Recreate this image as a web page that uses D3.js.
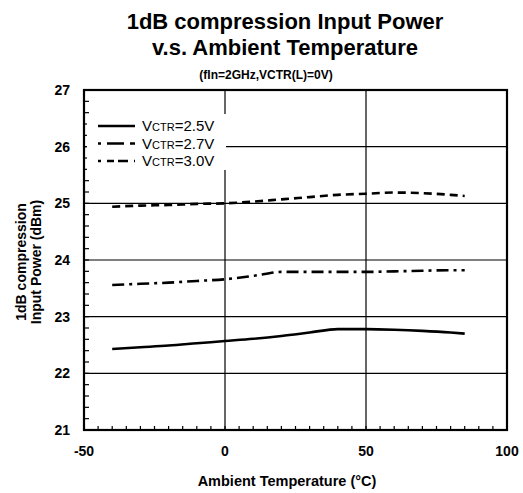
<!DOCTYPE html>
<html>
<head>
<meta charset="utf-8">
<script src="https://cdn.jsdelivr.net/npm/d3@7"></script>
<style>
  body { margin: 0; background: #fff; }
  text { font-family: "Liberation Sans", Arial, sans-serif; fill: #000; }
</style>
</head>
<body>
<script>
// temperatures (°C) and 1dB compression input power (dBm)
const temps = [-40, -30, -20, -10, 0, 10, 20, 30, 40, 50, 60, 70, 80, 85];
const v25 = [22.43, 22.46, 22.49, 22.53, 22.57, 22.61, 22.66, 22.72, 22.78, 22.78, 22.77, 22.75, 22.72, 22.70];
const v27 = [23.56, 23.58, 23.60, 23.63, 23.66, 23.72, 23.79, 23.79, 23.79, 23.79, 23.80, 23.81, 23.82, 23.82];
const v30 = [24.94, 24.96, 24.97, 24.99, 25.00, 25.03, 25.07, 25.11, 25.15, 25.17, 25.19, 25.18, 25.15, 25.13];

const seriesNames = ["2.5V", "2.7V", "3.0V"];
const seriesData = [v25, v27, v30];
const dashes = [null, "12,5,3,5", "8,5"];

const yTicks = [21, 22, 23, 24, 25, 26, 27];
const xTicks = [-50, 0, 50, 100];

const W = 523, H = 493;
const m = { left: 84, right: 16, top: 90, bottom: 63 };

const svg = d3.select("body").append("svg")
    .attr("width", W)
    .attr("height", H);

const x = d3.scaleLinear().domain([-50, 100]).range([m.left, W - m.right]);
const y = d3.scaleLinear().domain([21, 27]).range([H - m.bottom, m.top]);

// title
svg.append("text").attr("x", 285).attr("y", 29).attr("text-anchor", "middle")
    .style("font-size", "22px").style("font-weight", "bold")
    .text("1dB compression Input Power");
svg.append("text").attr("x", 285).attr("y", 55).attr("text-anchor", "middle")
    .style("font-size", "22px").style("font-weight", "bold")
    .text("v.s. Ambient Temperature");
svg.append("text").attr("x", 266).attr("y", 79).attr("text-anchor", "middle")
    .style("font-size", "12px").style("font-weight", "bold")
    .text("(fIn=2GHz,VCTR(L)=0V)");

// grid
svg.append("g").selectAll("line")
    .data(yTicks.slice(1, -1))
    .enter().append("line")
    .attr("x1", x(-50)).attr("x2", x(100))
    .attr("y1", d => y(d)).attr("y2", d => y(d))
    .attr("stroke", "#000").attr("stroke-width", 1.2);
svg.append("g").selectAll("line")
    .data(xTicks.slice(1, -1))
    .enter().append("line")
    .attr("x1", d => x(d)).attr("x2", d => x(d))
    .attr("y1", y(21)).attr("y2", y(27))
    .attr("stroke", "#000").attr("stroke-width", 1.2);

// minor ticks, inside
svg.append("g").selectAll("line")
    .data(d3.range(21, 27.001, 0.2))
    .enter().append("line")
    .attr("x1", x(-50)).attr("x2", x(-50) + 5)
    .attr("y1", d => y(d)).attr("y2", d => y(d))
    .attr("stroke", "#000").attr("stroke-width", 1.2);
svg.append("g").selectAll("line")
    .data(d3.range(-50, 100.001, 5))
    .enter().append("line")
    .attr("x1", d => x(d)).attr("x2", d => x(d))
    .attr("y1", y(21)).attr("y2", y(21) - 4)
    .attr("stroke", "#000").attr("stroke-width", 1.2);

// frame
svg.append("rect")
    .attr("x", x(-50)).attr("y", y(27))
    .attr("width", x(100) - x(-50)).attr("height", y(21) - y(27))
    .attr("fill", "none").attr("stroke", "#000").attr("stroke-width", 2.2);

// tick labels
svg.append("g").selectAll("text")
    .data(yTicks)
    .enter().append("text")
    .attr("x", 70).attr("y", d => y(d) + 5)
    .attr("text-anchor", "end")
    .style("font-size", "14px").style("font-weight", "bold")
    .text(d => d);
svg.append("g").selectAll("text")
    .data(xTicks)
    .enter().append("text")
    .attr("x", d => x(d)).attr("y", 456)
    .attr("text-anchor", "middle")
    .style("font-size", "14px").style("font-weight", "bold")
    .text(d => d);

// axis titles
svg.append("text").attr("x", 287).attr("y", 486).attr("text-anchor", "middle")
    .style("font-size", "14.5px").style("font-weight", "bold")
    .text("Ambient Temperature (°C)");
const yt = svg.append("text")
    .attr("transform", "translate(26,262) rotate(-90)")
    .attr("text-anchor", "middle")
    .style("font-size", "14px").style("font-weight", "bold");
yt.append("tspan").attr("x", 0).attr("dy", 0).text("1dB compression");
yt.append("tspan").attr("x", 0).attr("dy", 15).text("Input Power (dBm)");

// lines
const line = d3.line()
    .x((d, i) => x(temps[i]))
    .y(d => y(d))
    .curve(d3.curveMonotoneX);

svg.append("g").selectAll("path")
    .data(seriesData)
    .enter().append("path")
    .attr("d", d => line(d))
    .attr("fill", "none")
    .attr("stroke", "#000")
    .attr("stroke-width", 2.6)
    .attr("stroke-dasharray", (d, i) => dashes[i]);

// legend
const lg = svg.append("g");
lg.append("rect")
    .attr("x", x(-50) + 3).attr("y", 114)
    .attr("width", 139).attr("height", 56)
    .attr("fill", "#fff");
const rows = lg.selectAll("g")
    .data(seriesNames)
    .enter().append("g")
    .attr("transform", (d, i) => `translate(0,${126 + i * 17.5})`);
rows.append("line")
    .attr("x1", 98).attr("x2", 135)
    .attr("y1", 0).attr("y2", 0)
    .attr("stroke", "#000").attr("stroke-width", 2.6)
    .attr("stroke-dasharray", (d, i) => i === 0 ? null : (i === 1 ? "3,6,14,0" : "3,6,7,4,7,0"));
const lt = rows.append("text")
    .attr("x", 142).attr("y", 5)
    .style("font-size", "15px");
lt.append("tspan").text("V");
lt.append("tspan").style("font-size", "11px").text("CTR");
lt.append("tspan").text(d => "=" + d);
</script>
</body>
</html>
